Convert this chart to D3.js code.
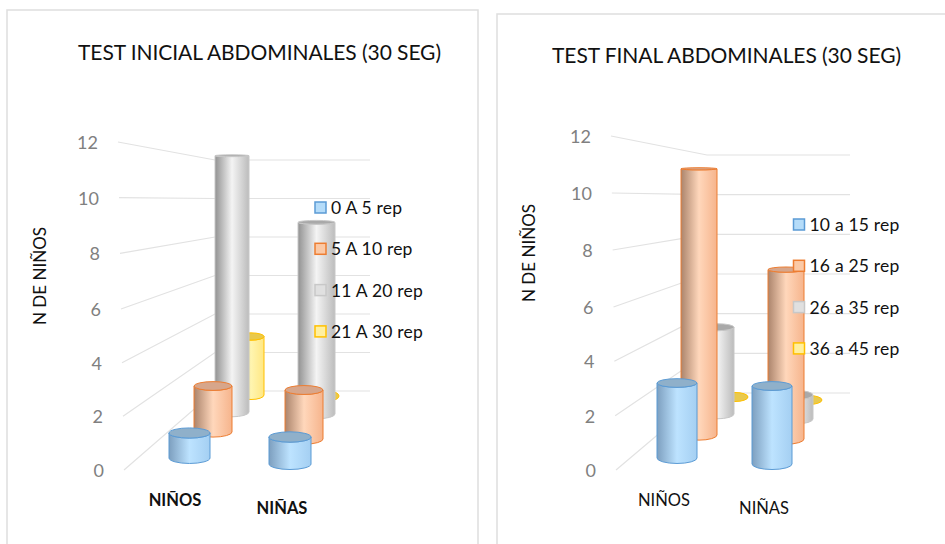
<!DOCTYPE html>
<html>
<head>
<meta charset="utf-8">
<script src="https://cdn.jsdelivr.net/npm/d3@7"></script>
<style>
body { margin: 0; background: #fff; }
svg { display: block; }
text { font-family: Lato, "Open Sans", sans-serif; }
</style>
</head>
<body>
<div id="chart"></div>
<script>
var categories = ["NIÑOS", "NIÑAS"];
var yTicks = [0, 2, 4, 6, 8, 10, 12];

var inicialSeries = ["0 A 5 rep", "5 A 10 rep", "11 A 20 rep", "21 A 30 rep"];
var inicial0a5 = [1, 1];
var inicial5a10 = [2, 2];
var inicial11a20 = [11, 9];
var inicial21a30 = [3, 0];

var finalSeries = ["10 a 15 rep", "16 a 25 rep", "26 a 35 rep", "36 a 45 rep"];
var final10a15 = [3, 3];
var final16a25 = [11, 7];
var final26a35 = [4, 1];
var final36a45 = [0, 0];

var palette = [
    { edge: "#7d9fbf", light: "#bde3ff", side: "#a4cff2", stroke: "#5b9bd5", cap: "#8fb0ca", key: "#b5dcf9" },
    { edge: "#ab846c", light: "#ffd7bb", side: "#f6b48c", stroke: "#ed7d31", cap: "#d7a68b", key: "#fbc9a6" },
    { edge: "#929292", light: "#f4f4f4", side: "#bcbcbc", stroke: "#c8c8c8", cap: "#a9a9a9", key: "#e0e0e0" },
    { edge: "#c9b873", light: "#fff5b0", side: "#ffe783", stroke: "#ffc000", cap: "#e9c94c", key: "#fff0a0" }
];

var svg = d3.select("#chart").append("svg")
    .attr("width", 945)
    .attr("height", 544);

var defs = svg.append("defs");
palette.forEach(function (c, i) {
    var grad = defs.append("linearGradient").attr("id", "cyl" + i);
    grad.append("stop").attr("offset", "0%").attr("stop-color", c.edge);
    grad.append("stop").attr("offset", "50%").attr("stop-color", c.light);
    grad.append("stop").attr("offset", "100%").attr("stop-color", c.side);
});

/* Ellipses flatten as they get close to the eye level of the 3D view */
var capRy = d3.scaleLinear().domain([150, 460]).range([0.8, 5.5]).clamp(true);

function drawChart(cfg) {
    var g = svg.append("g");

    g.append("rect")
        .attr("x", cfg.panel[0]).attr("y", cfg.panel[1])
        .attr("width", cfg.panel[2]).attr("height", cfg.panel[3])
        .attr("fill", "#fff").attr("stroke", "#dedede").attr("stroke-width", 1.5);

    g.append("text")
        .attr("x", cfg.titleX).attr("y", cfg.titleY)
        .attr("text-anchor", "middle")
        .attr("font-size", 21)
        .attr("textLength", cfg.titleLen)
        .attr("fill", "#111")
        .text(cfg.title);

    g.append("text")
        .attr("transform", "translate(" + cfg.yTitle[0] + "," + cfg.yTitle[1] + ") rotate(-90)")
        .attr("text-anchor", "middle")
        .attr("font-size", 17)
        .attr("fill", "#111")
        .text("N DE NIÑOS");

    /* Grid runs along the side wall to the corner, then across the back wall */
    var frontY = d3.scaleLinear().domain([0, 6, 12]).range(cfg.frontY);
    var frontX = d3.scaleLinear().domain([0, 12]).range(cfg.frontX);
    var backY = d3.scaleLinear().domain([0, 12]).range(cfg.backY);
    var line = d3.line();

    g.append("g").selectAll("path")
        .data(yTicks)
        .enter().append("path")
        .attr("d", function (d) {
            return line([[frontX(d), frontY(d)], [cfg.cornerX, backY(d)], [cfg.rightX, backY(d)]]);
        })
        .attr("fill", "none")
        .attr("stroke", "#e2e2e2")
        .attr("stroke-width", 1.2);

    g.append("g").selectAll("text")
        .data(yTicks)
        .enter().append("text")
        .attr("x", function (d) { return frontX(d) - 20; })
        .attr("y", function (d) { return frontY(d) + 7; })
        .attr("text-anchor", "end")
        .attr("font-size", 18)
        .attr("fill", "#808080")
        .text(function (d) { return d; });

    /* Back series first so the nearer cylinders cover them */
    d3.range(cfg.values.length - 1, -1, -1).forEach(function (s) {
        var c = palette[s];
        categories.forEach(function (cat, k) {
            var p = cfg.proj[k];
            var cx = p.x[s], base = p.base[s], r = p.r[s];
            var y = d3.scaleLinear().domain([0, 1]).range([base, base - p.unit[s]]);
            var v = cfg.values[s][k];
            var top = y(v);
            var ryTop = capRy(top), ryBase = capRy(base);

            if (v > 0) {
                g.append("path")
                    .attr("d", "M" + (cx - r) + "," + top + "L" + (cx - r) + "," + base +
                        "A" + r + "," + ryBase + " 0 0 0 " + (cx + r) + "," + base +
                        "L" + (cx + r) + "," + top +
                        "A" + r + "," + ryTop + " 0 0 1 " + (cx - r) + "," + top + "Z")
                    .attr("fill", "url(#cyl" + s + ")")
                    .attr("stroke", c.stroke)
                    .attr("stroke-width", 1);
            }
            g.append("ellipse")
                .attr("cx", cx).attr("cy", top)
                .attr("rx", r).attr("ry", ryTop)
                .attr("fill", c.cap)
                .attr("stroke", c.stroke)
                .attr("stroke-width", 1);
        });
    });

    categories.forEach(function (cat, k) {
        g.append("text")
            .attr("x", cfg.catX[k]).attr("y", cfg.catY[k])
            .attr("text-anchor", "middle")
            .attr("font-size", 16.5)
            .attr("font-weight", cfg.catWeight)
            .attr("fill", "#111")
            .text(cat);
    });

    var legend = g.append("g").selectAll("g")
        .data(cfg.series)
        .enter().append("g")
        .attr("transform", function (d, i) {
            return "translate(" + cfg.legendX + "," + (cfg.legendY + i * cfg.legendStep) + ")";
        });
    legend.append("rect")
        .attr("x", 0).attr("y", -6)
        .attr("width", 11).attr("height", 11)
        .attr("fill", function (d, i) { return palette[i].key; })
        .attr("stroke", function (d, i) { return palette[i].stroke; })
        .attr("stroke-width", 1.5);
    legend.append("text")
        .attr("x", cfg.legendGap).attr("y", 6)
        .attr("font-size", 17.5)
        .attr("letter-spacing", 0.2)
        .attr("fill", "#111")
        .text(function (d) { return d; });
}

drawChart({
    title: "TEST INICIAL ABDOMINALES (30 SEG)",
    series: inicialSeries,
    values: [inicial0a5, inicial5a10, inicial11a20, inicial21a30],
    panel: [7, 10, 471, 560],
    titleX: 259.5, titleY: 60, titleLen: 363,
    yTitle: [46, 276],
    frontY: [470, 309, 142], frontX: [124, 118], backY: [391, 160],
    cornerX: 215, rightX: 370,
    proj: [
        { x: [189.5, 213, 232, 251], base: [458, 432, 412, 395], unit: [25, 23, 23.3, 19.5], r: [20.5, 19, 17, 13] },
        { x: [290, 304, 316.5, 330], base: [464, 439, 414, 396], unit: [27, 24.5, 21.3, 20], r: [21, 19, 18.5, 9] }
    ],
    catX: [175, 282], catY: [506, 514], catWeight: "bold",
    legendX: 315, legendY: 208, legendStep: 41.3, legendGap: 16
});

drawChart({
    title: "TEST FINAL ABDOMINALES (30 SEG)",
    series: finalSeries,
    values: [final10a15, final16a25, final26a35, final36a45],
    panel: [497, 14, 470, 560],
    titleX: 726.5, titleY: 63, titleLen: 349,
    yTitle: [535, 253],
    frontY: [470, 307, 136], frontX: [616, 611], backY: [393, 155],
    cornerX: 707, rightX: 850,
    proj: [
        { x: [677, 699, 717, 735], base: [458, 435, 414, 397], unit: [25, 24.2, 21.7, 20], r: [20, 18, 17, 13] },
        { x: [772, 786, 796, 808], base: [464, 439, 419, 400], unit: [26, 24.2, 24, 20], r: [20, 18, 17, 14] }
    ],
    catX: [664, 764], catY: [506, 514], catWeight: "normal",
    legendX: 793.5, legendY: 225, legendStep: 41.3, legendGap: 16
});
</script>
</body>
</html>
